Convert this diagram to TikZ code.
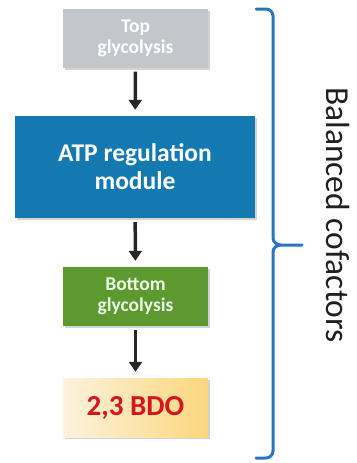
\documentclass[tikz,border=0pt]{standalone}
\usepackage{fontspec}
\setmainfont{Carlito}
\usepackage{tikz}
\usetikzlibrary{arrows.meta,shadows}
\definecolor{glygray}{RGB}{195,199,203}
\definecolor{atpblue}{RGB}{20,121,177}
\definecolor{glygreen}{RGB}{93,153,47}
\definecolor{bdored}{RGB}{215,20,28}
\definecolor{bdolight}{RGB}{253,242,222}
\definecolor{bdodark}{RGB}{251,214,124}
\definecolor{bracblue}{RGB}{43,116,196}

\begin{document}
\begin{tikzpicture}[x=1pt,y=-1pt,
  stepbox/.style={minimum width=145pt,minimum height=59pt,align=center,
    font=\bfseries\fontsize{19.5}{21}\selectfont,
    drop shadow={opacity=0.35,shadow xshift=1.5pt,shadow yshift=-2pt}},
  flow/.style={line width=3.5pt,draw=black!85,-{Triangle[width=13pt,length=10pt]},
    shorten <=4pt,shorten >=6pt}]
\useasboundingbox (0,0) rectangle (356,463);
% Pathway boxes
\node[stepbox,fill=glygray,text=white] (top) at (135.5,38) {Top\\glycolysis};
\node[stepbox,fill=atpblue,text=white,minimum width=240pt,minimum height=102pt,
  font=\bfseries\fontsize{25.5}{28}\selectfont] (atp) at (135,167) {ATP regulation\\module};
\node[stepbox,fill=glygreen,text=green!8] (bottom) at (135.5,296.5) {Bottom\\glycolysis};
\node[stepbox,left color=bdolight,right color=bdodark,text=bdored,
  font=\bfseries\fontsize{29}{32}\selectfont] (bdo) at (135.5,407.5) {2,3 BDO};

% Arrows
\draw[flow] (top) -- (atp);
\draw[flow] (atp) -- (bottom);
\draw[flow] (bottom) -- (bdo);

% Bracket
\coordinate (bt) at (256,9);
\coordinate (bm) at (302,245);
\coordinate (bb) at (256,458);
\draw[bracblue,line width=3pt,line cap=round]
  (bt) -- (266,9) to[out=0,in=90] (273,16) -- (273,238)
  to[out=-90,in=180] (281,245) -- (bm)
  (281,245) to[out=180,in=90] (273,252) -- (273,451)
  to[out=-90,in=0] (266,458) -- (bb);
\node[rotate=-90,font=\fontsize{33.5}{36}\selectfont,text=black!88] (cofac) at (338,215) {Balanced cofactors};
\end{tikzpicture}
\end{document}
